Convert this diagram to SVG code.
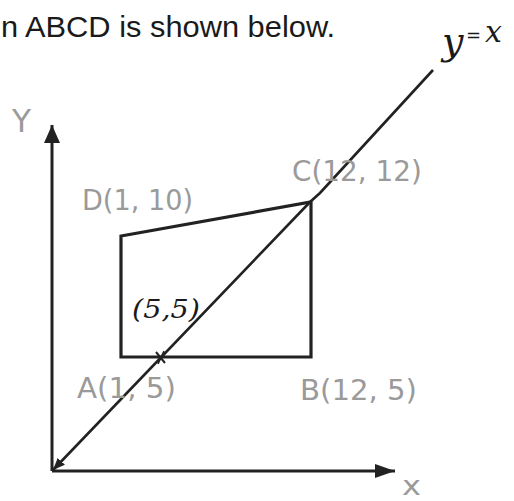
<svg xmlns="http://www.w3.org/2000/svg" width="514" height="501" viewBox="0 0 514 501">
<style>
.title{font-family:"Liberation Sans",Arial,sans-serif;font-size:30px;fill:#1a1a1a}
.lbl{font-family:"DejaVu Sans","Liberation Sans",sans-serif;font-size:28px;fill:#9a9a9a}
.hand{font-family:"DejaVu Serif","Liberation Serif",serif;font-style:italic;fill:#1a1a1a}
.axis{stroke:#222;stroke-width:3;fill:none}
.shape{stroke:#222;stroke-width:3.2;fill:none;stroke-linejoin:miter}
.diag{stroke:#222;stroke-width:2.6;fill:none}
</style>
<defs>
<marker id="arrowX" markerUnits="userSpaceOnUse" markerWidth="21" markerHeight="14" refX="20" refY="7" orient="auto" viewBox="0 0 21 14">
<path d="M0,0 L20,7 L0,14 z" fill="#222"/>
</marker>
<marker id="arrowY" markerUnits="userSpaceOnUse" markerWidth="19" markerHeight="16" refX="18" refY="8" orient="auto" viewBox="0 0 19 16">
<path d="M0,0 L18,8 L0,16 z" fill="#222"/>
</marker>
<marker id="arrowO" markerUnits="userSpaceOnUse" markerWidth="13" markerHeight="10" refX="12" refY="5" orient="auto-start-reverse" viewBox="0 0 13 10">
<path d="M0,0 L12,5 L0,10 z" fill="#222"/>
</marker>
</defs>
<rect width="514" height="501" fill="#ffffff"/>
<text class="title" x="1" y="37" textLength="334" lengthAdjust="spacingAndGlyphs">n ABCD is shown below.</text>
<g id="connectors">
<line id="y-axis" class="axis" x1="52" y1="471" x2="52" y2="125" marker-end="url(#arrowY)"/>
<line id="x-axis" class="axis" x1="52" y1="471" x2="395" y2="471" marker-end="url(#arrowX)"/>
<polyline id="line-y-eq-x" class="diag" points="53,470 310,202 320,193 433,70" marker-start="url(#arrowO)"/>
</g>
<g id="quad-ABCD">
<polygon class="shape" points="121,357 311,357 311,202 121,236"/>
</g>
<g id="intersection">
<line x1="156" y1="352" x2="165" y2="363" stroke="#222" stroke-width="2"/>
<line x1="164" y1="351" x2="158" y2="364" stroke="#222" stroke-width="1.6"/>
</g>
<g id="node-A"><text class="lbl" x="77" y="398" textLength="99" lengthAdjust="spacingAndGlyphs">A(1, 5)</text></g>
<g id="node-B"><text class="lbl" x="300" y="400" textLength="117" lengthAdjust="spacingAndGlyphs">B(12, 5)</text></g>
<g id="node-C"><text class="lbl" x="292" y="181" textLength="130" lengthAdjust="spacingAndGlyphs">C(12, 12)</text></g>
<g id="node-D"><text class="lbl" x="82" y="210" textLength="111" lengthAdjust="spacingAndGlyphs">D(1, 10)</text></g>
<g id="axis-labels">
<text class="lbl" x="12" y="132" textLength="19" lengthAdjust="spacingAndGlyphs" style="font-size:32px">Y</text>
<text class="lbl" x="402" y="495" textLength="19" lengthAdjust="spacingAndGlyphs" style="font-size:26px">x</text>
</g>
<g id="point-5-5">
<text class="hand" x="132" y="318" font-size="26" textLength="68" lengthAdjust="spacingAndGlyphs">(5,5)</text>
</g>
<g id="label-y-eq-x">
<text class="hand" x="442" y="54" font-size="38">y</text>
<text class="hand" x="466" y="42" font-size="18">=</text>
<text class="hand" x="485" y="42" font-size="30">x</text>
</g>
</svg>
